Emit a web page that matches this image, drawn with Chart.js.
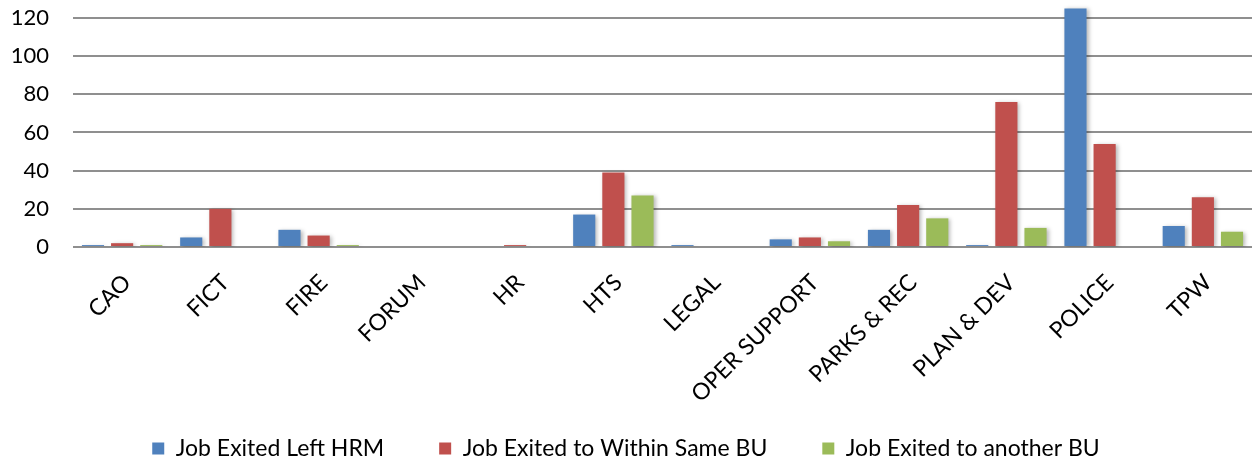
<!DOCTYPE html>
<html>
<head>
<meta charset="utf-8">
<script src="https://cdn.jsdelivr.net/npm/chart.js@4"></script>
<style>
  html, body { margin: 0; padding: 0; background: #fff; }
  #wrap { width: 1252px; height: 459px; }
</style>
</head>
<body>
<div id="wrap"><canvas id="exitChart"></canvas></div>
<script>
const units = ["CAO", "FICT", "FIRE", "FORUM", "HR", "HTS", "LEGAL", "OPER SUPPORT", "PARKS & REC", "PLAN & DEV", "POLICE", "TPW"];
const leftHrm = [1, 5, 9, 0, 0, 17, 1, 4, 9, 1, 125, 11];
const sameBu = [2, 20, 6, 0, 1, 39, 0, 5, 22, 76, 54, 26];
const otherBu = [1, 0, 1, 0, 0, 27, 0, 3, 15, 10, 0, 8];
const yTicks = [0, 20, 40, 60, 80, 100, 120];

const fontFamily = "Lato, 'Open Sans', sans-serif";

// soft shadow under the bars, like the office chart
const barShadow = {
    id: "barShadow",
    afterLayout(chart) {
        // long rotated labels run into the legend band, don't clip them
        chart.scales.x.bottom = chart.height;
    },
    beforeDatasetsDraw(chart) {
        const ctx = chart.ctx;
        ctx.save();
        ctx.shadowColor = "rgba(0,0,0,0.28)";
        ctx.shadowBlur = 4;
        ctx.shadowOffsetX = 2;
        ctx.shadowOffsetY = 1;
    },
    afterDatasetsDraw(chart) {
        chart.ctx.restore();
    }
};

function makeSet(label, data, color) {
    return {
        label: label,
        data: data,
        backgroundColor: color,
        borderWidth: 0,
        categoryPercentage: 0.89,
        barPercentage: 0.76
    };
}

new Chart(document.getElementById("exitChart"), {
    type: "bar",
    data: {
        labels: units,
        datasets: [
            makeSet("Job Exited Left HRM", leftHrm, "#4f81bd"),
            makeSet("Job Exited to Within Same BU", sameBu, "#c0504d"),
            makeSet("Job Exited to another BU", otherBu, "#9bbb59")
        ]
    },
    options: {
        responsive: true,
        maintainAspectRatio: false,
        animation: false,
        layout: { padding: { left: 0, right: 0, top: 0, bottom: -11 } },
        plugins: {
            tooltip: { enabled: false },
            legend: {
                position: "bottom",
                labels: {
                    boxWidth: 12,
                    boxHeight: 12,
                    padding: 55,
                    color: "#000",
                    font: { family: fontFamily, size: 23 }
                }
            }
        },
        scales: {
            x: {
                grid: { display: false, drawTicks: false },
                border: { display: false },
                ticks: {
                    minRotation: 45,
                    maxRotation: 45,
                    autoSkip: false,
                    padding: 22,
                    labelOffset: 5,
                    color: "#000",
                    font: { family: fontFamily, size: 23 }
                },
                afterFit(scale) { scale.height = 135; }
            },
            y: {
                min: 0,
                max: 129.4,
                border: { display: false },
                grid: { color: "#8f8f8f", lineWidth: 2, drawTicks: false },
                afterBuildTicks(scale) {
                    scale.ticks = yTicks.map(v => ({ value: v }));
                },
                afterFit(scale) {
                    scale.width = 73;
                    scale.paddingTop = 0;
                },
                ticks: {
                    padding: 24,
                    color: "#000",
                    font: { family: fontFamily, size: 22 }
                }
            }
        }
    },
    plugins: [barShadow]
});
</script>
</body>
</html>
